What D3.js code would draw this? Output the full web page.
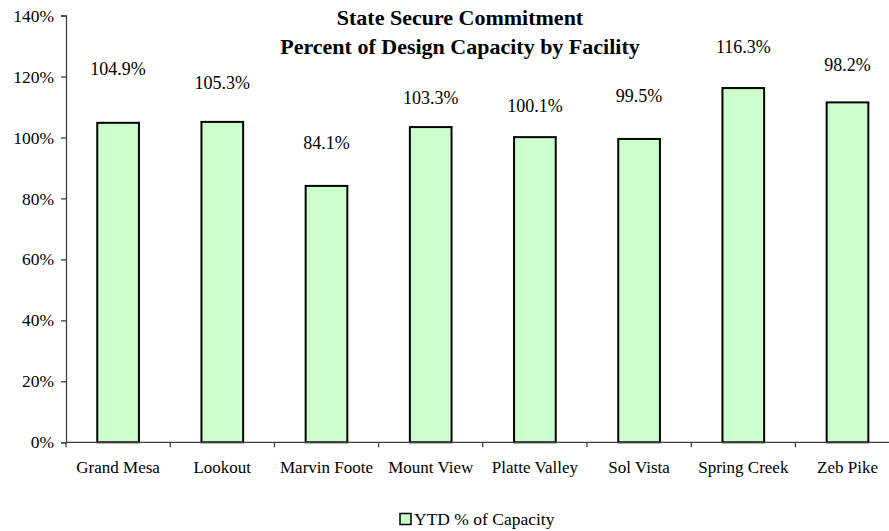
<!DOCTYPE html>
<html>
<head>
<meta charset="utf-8">
<script src="https://cdn.jsdelivr.net/npm/d3@7"></script>
<style>
  body { margin: 0; background: #fff; }
  text { font-family: "Liberation Serif", "Times New Roman", serif; fill: #000; }
</style>
</head>
<body>
<div id="chart"></div>
<script>
var facilities = ["Grand Mesa", "Lookout", "Marvin Foote", "Mount View", "Platte Valley", "Sol Vista", "Spring Creek", "Zeb Pike"];
var capacity = [104.8, 105.1, 84.1, 103.4, 100.1, 99.5, 116.2, 111.5];
var labelText = ["104.9%", "105.3%", "84.1%", "103.3%", "100.1%", "99.5%", "116.3%", "98.2%"];
var labelLevel = [122.6, 117.9, 98.2, 113.1, 110.3, 113.6, 129.7, 123.7];
var yTicks = [0, 20, 40, 60, 80, 100, 120, 140];
var seriesName = "YTD % of Capacity";

var width = 889, height = 531;
var margin = {top: 15.5, left: 66, bottom: 89};
var bandW = 104.2;

var svg = d3.select("#chart").append("svg")
    .attr("width", width)
    .attr("height", height);

var x = d3.scaleBand()
    .domain(facilities)
    .range([margin.left, margin.left + bandW * facilities.length])
    .paddingInner(0).paddingOuter(0);

var y = d3.scaleLinear()
    .domain([0, 140])
    .range([height - margin.bottom + 0.3, margin.top]);

var yAxis = d3.axisLeft(y).tickValues(yTicks).tickSize(5).tickFormat(function(d) { return d + "%"; });

var gy = svg.append("g")
    .attr("transform", "translate(" + margin.left + ",0)")
    .call(yAxis);
gy.select(".domain").attr("stroke", "#404040").attr("stroke-width", 1.3);
gy.selectAll(".tick line").attr("stroke", "#404040").attr("stroke-width", 1.3);
gy.selectAll(".tick text").attr("x", -12).style("font-size", "17.5px").attr("fill", "#000");

// bars
var barW = x.bandwidth() * 0.4;
svg.selectAll(".bar")
    .data(capacity)
  .enter().append("rect")
    .attr("class", "bar")
    .attr("x", function(d, i) { return x(facilities[i]) + (x.bandwidth() - barW) / 2; })
    .attr("width", barW)
    .attr("y", function(d) { return y(d); })
    .attr("height", function(d) { return y(0) - y(d); })
    .attr("fill", "#ccffcc")
    .attr("stroke", "#000")
    .attr("stroke-width", 2);

// x axis: ticks at category boundaries
var xAxisY = y(0);
svg.append("line")
    .attr("x1", margin.left).attr("x2", width)
    .attr("y1", xAxisY).attr("y2", xAxisY)
    .attr("stroke", "#404040").attr("stroke-width", 1.3);
svg.selectAll(".xtick")
    .data(facilities)
  .enter().append("line")
    .attr("class", "xtick")
    .attr("x1", function(d) { return x(d); })
    .attr("x2", function(d) { return x(d); })
    .attr("y1", xAxisY).attr("y2", xAxisY + 5)
    .attr("stroke", "#404040").attr("stroke-width", 1.3);
svg.selectAll(".xlabel")
    .data(facilities)
  .enter().append("text")
    .attr("class", "xlabel")
    .attr("x", function(d) { return x(d) + x.bandwidth() / 2; })
    .attr("y", xAxisY + 25)
    .attr("dy", "0.35em")
    .attr("text-anchor", "middle")
    .style("font-size", "17px")
    .text(function(d) { return d; });

// value labels
svg.selectAll(".vlabel")
    .data(labelText)
  .enter().append("text")
    .attr("class", "vlabel")
    .attr("x", function(d, i) { return x(facilities[i]) + x.bandwidth() / 2; })
    .attr("y", function(d, i) { return y(labelLevel[i]); })
    .attr("dy", "0.35em")
    .attr("text-anchor", "middle")
    .style("font-size", "18px")
    .text(function(d) { return d; });

// title
var title = svg.append("text")
    .attr("x", 460)
    .attr("text-anchor", "middle")
    .style("font-size", "22px")
    .style("font-weight", "bold");
title.append("tspan").attr("x", 460).attr("y", 25).text("State Secure Commitment");
title.append("tspan").attr("x", 460).attr("y", 53.5).text("Percent of Design Capacity by Facility");

// legend
var lg = svg.append("g").attr("transform", "translate(400,513.5)");
lg.append("rect")
    .attr("width", 11).attr("height", 11)
    .attr("fill", "#ccffcc").attr("stroke", "#000").attr("stroke-width", 1.5);
lg.append("text")
    .attr("x", 14).attr("y", 5.5).attr("dy", "0.35em")
    .style("font-size", "17.5px")
    .text(seriesName);
</script>
</body>
</html>
